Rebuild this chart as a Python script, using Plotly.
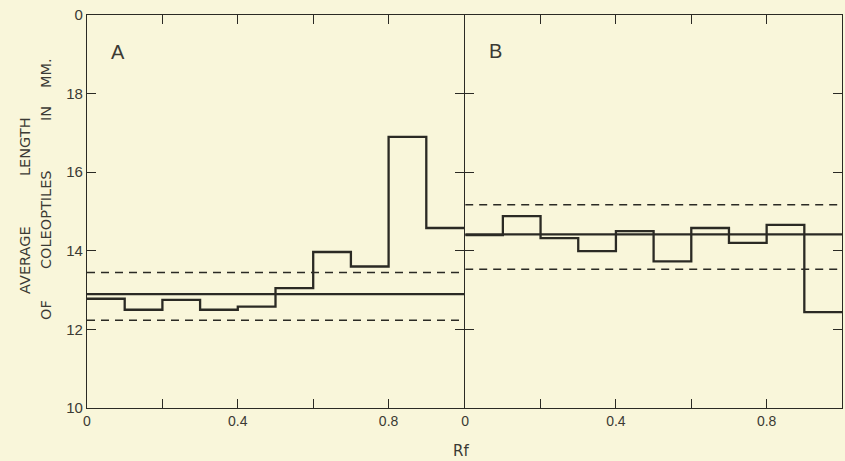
import plotly.graph_objects as go

# ---- data ----
bin_edges = [0.0, 0.1, 0.2, 0.3, 0.4, 0.5, 0.6, 0.7, 0.8, 0.9, 1.0]
panel_a_values = [12.78, 12.50, 12.75, 12.50, 12.58, 13.05, 13.97, 13.60, 16.90, 14.58]
panel_b_values = [14.40, 14.88, 14.32, 13.99, 14.50, 13.73, 14.58, 14.20, 14.66, 12.44]
panel_a_mean = 12.90
panel_a_limits = [12.23, 13.45]
panel_b_mean = 14.42
panel_b_limits = [13.53, 15.17]
x_tickvals = [0.0, 0.2, 0.4, 0.6, 0.8, 1.0]
x_ticktext = ["0", "", "0.4", "", "0.8", ""]
y_tickvals = [10, 12, 14, 16, 18, 20]
y_ticktext = ["10", "12", "14", "16", "18", "0"]

W, H = 845, 461
ML, MR, MT, MB = 87, 3, 15, 53
PW, PH = W - ML - MR, H - MT - MB
BG = "#F9F6DA"
INK = "#2b2a24"
TXT = "#3b3a34"
FONT = "Liberation Sans"
TFONT = "DejaVu Sans"
LW = 1.2


def px(xp):
    return (xp - ML) / PW


def py(yp):
    return (H - MB - yp) / PH


split_a = 377 / PW
split_b = (377 + LW) / PW

fig = go.Figure()

for vals, mean, lims, xa in [
    (panel_a_values, panel_a_mean, panel_a_limits, "x"),
    (panel_b_values, panel_b_mean, panel_b_limits, "x2"),
]:
    ya = "y" if xa == "x" else "y2"
    fig.add_trace(go.Scatter(
        x=bin_edges, y=vals + [vals[-1]], mode="lines", line_shape="hv",
        line=dict(color=INK, width=2.3), xaxis=xa, yaxis=ya, showlegend=False,
        cliponaxis=False))
    fig.add_trace(go.Scatter(
        x=[bin_edges[0], bin_edges[-1]], y=[mean, mean], mode="lines",
        line=dict(color=INK, width=2.3), xaxis=xa, yaxis=ya, showlegend=False))
    for lim in lims:
        fig.add_trace(go.Scatter(
            x=[bin_edges[0], bin_edges[-1]], y=[lim, lim], mode="lines",
            line=dict(color=INK, width=1.5, dash="8px,6px"),
            xaxis=xa, yaxis=ya, showlegend=False))

xcommon = dict(range=[0, 1], tickvals=x_tickvals, ticktext=x_ticktext,
               ticks="inside", ticklen=9, tickwidth=1.3, tickcolor=INK,
               showline=True, linecolor=INK, linewidth=LW, mirror="ticks",
               showgrid=False, zeroline=False,
               tickfont=dict(family=FONT, size=14, color=TXT))
ycommon = dict(range=[10, 20], tickvals=y_tickvals, ticktext=y_ticktext,
               ticks="inside", ticklen=9, tickwidth=1.3, tickcolor=INK,
               showline=True, linecolor=INK, linewidth=LW, mirror="ticks",
               showgrid=False, zeroline=False,
               tickfont=dict(family=FONT, size=15, color=TXT))

fig.update_layout(
    width=W, height=H,
    margin=dict(l=ML, r=MR, t=MT, b=MB),
    paper_bgcolor=BG, plot_bgcolor=BG,
    xaxis=dict(domain=[0, split_a], anchor="y", **xcommon),
    xaxis2=dict(domain=[split_b, 1], anchor="y2", **xcommon),
    yaxis=dict(anchor="x", **ycommon),
    yaxis2=dict(anchor="x2", showticklabels=False, **ycommon),
)

annots = [
    ("A", 118, 52, 20, 0, FONT),
    ("B", 495, 51, 20, 0, FONT),
    ("Rf", 461, 451, 15, 0, TFONT),
    ("AVERAGE", 25, 260, 14.5, -90, TFONT),
    ("LENGTH", 25, 147, 14.5, -90, TFONT),
    ("OF", 46, 310, 14.5, -90, TFONT),
    ("COLEOPTILES", 46, 220, 14.5, -90, TFONT),
    ("IN", 46, 114, 14.5, -90, TFONT),
    ("MM.", 46, 73, 14.5, -90, TFONT),
]
for text, xp, yp, size, ang, fam in annots:
    fig.add_annotation(text=text, x=px(xp), y=py(yp), xref="paper", yref="paper",
                       showarrow=False, textangle=ang, xanchor="center", yanchor="middle",
                       font=dict(family=fam, size=size, color=TXT))

fig.write_html(
    "out.html",
    config={"displayModeBar": False},
    post_script="document.body.style.margin='0';document.body.style.overflow='hidden';",
)
